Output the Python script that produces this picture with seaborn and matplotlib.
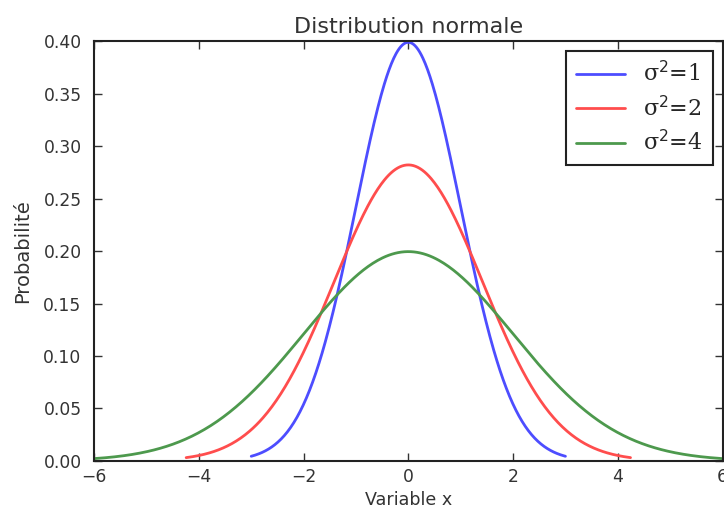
import numpy as np
import pandas as pd
import matplotlib
matplotlib.use("Agg")
import matplotlib.pyplot as plt
import seaborn as sns

# Data: normal densities, mean 0, variances as labelled; each drawn over +/- 3 sigma
variances = [1, 2, 4]
labels = ["σ$^2$=1", "σ$^2$=2", "σ$^2$=4"]
colors = ["#4d4dff", "#ff4d4d", "#4d994d"]
x_ticks = [-6, -4, -2, 0, 2, 4, 6]
y_ticks = [0.00, 0.05, 0.10, 0.15, 0.20, 0.25, 0.30, 0.35, 0.40]

frames = []
for v, lab in zip(variances, labels):
    s = np.sqrt(v)
    x = np.linspace(-3 * s, 3 * s, 400)
    y = np.exp(-x**2 / (2 * v)) / np.sqrt(2 * np.pi * v)
    frames.append(pd.DataFrame({"x": x, "y": y, "serie": lab}))
df = pd.concat(frames, ignore_index=True)

sns.set_style("ticks")
plt.rcParams["font.family"] = ["DejaVu Sans"]

fig = plt.figure(figsize=(7.24, 5.15), dpi=100)
ax = fig.add_axes([0.130, 0.105, 0.868, 0.815])
sns.lineplot(data=df, x="x", y="y", hue="serie", palette=dict(zip(labels, colors)),
             linewidth=2, ax=ax, sort=False, estimator=None)

ax.set_xlim(-6, 6)
ax.set_ylim(0, 0.40)
ax.set_xticks(x_ticks)
ax.set_xticklabels(["−6", "−4", "−2", "0", "2", "4", "6"])
ax.set_yticks(y_ticks)
ax.set_yticklabels([f"{t:.2f}" for t in y_ticks])
ax.tick_params(direction="in", length=6, width=1, labelsize=12.3, top=True, right=True,
               colors="#333333")
ax.tick_params(axis="x", pad=5)
ax.tick_params(axis="y", pad=9)
for sp in ax.spines.values():
    sp.set_linewidth(1.5)
    sp.set_color("#222222")
ax.set_xlabel("Variable x", fontsize=12.6, color="#333333", labelpad=4)
ax.set_ylabel("Probabilité", fontsize=14, color="#333333", labelpad=8)
ax.set_title("Distribution normale", fontsize=16, color="#333333", pad=6)

leg = ax.legend(loc="upper right", frameon=True, fancybox=False,
                edgecolor="#222222", handlelength=2.2, borderpad=0.45,
                labelspacing=0.42, prop={"family": "DejaVu Serif", "size": 16},
                bbox_to_anchor=(1.0, 1.0), borderaxespad=0.45)
leg.get_frame().set_linewidth(1.5)
leg.get_frame().set_alpha(1)
for h in leg.get_lines():
    h.set_linewidth(2)

fig.savefig("out.png", dpi=100)
